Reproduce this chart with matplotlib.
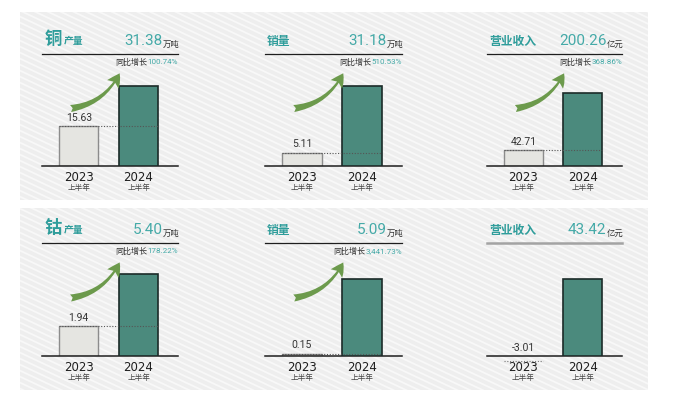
import matplotlib
matplotlib.use("Agg")
import matplotlib.pyplot as plt
from matplotlib.patches import Rectangle, FancyArrowPatch
import numpy as np

plt.rcParams['font.family'] = ['Noto Sans CJK SC', 'DejaVu Sans']

metals = ["铜", "", "", "钴", "", ""]
metrics = ["产量", "销量", "营业收入", "产量", "销量", "营业收入"]
units = ["万吨", "万吨", "亿元", "万吨", "万吨", "亿元"]
v2023 = [15.63, 5.11, 42.71, 1.94, 0.15, -3.01]
v2024 = [31.38, 31.18, 200.26, 5.40, 5.09, 43.42]
growth = ["100.74%", "510.53%", "368.86%", "178.22%", "3,441.73%", None]
years = ["2023", "2024"]
period = "上半年"

TEAL = "#2f9d9b"
TEAL_LIGHT = "#45aaa8"
W, H = 674, 400

fig = plt.figure(figsize=(W / 100, H / 100), dpi=100)
fig.patch.set_facecolor("white")

# background panels with diagonal stripes
bg = fig.add_axes([0, 0, 1, 1])
bg.set_xlim(0, W)
bg.set_ylim(H, 0)
bg.axis("off")
for (y0, y1) in [(12, 200), (208, 390)]:
    rect = Rectangle((20, y0), 628, y1 - y0, facecolor="#eeeeee", edgecolor="none")
    bg.add_patch(rect)
    xs = np.array([0, W])
    for c in np.arange(-0.47 * W, H, 6):
        ln, = bg.plot(xs, c + 0.47 * xs, color="#f8f8f8", lw=1.3)
        ln.set_clip_path(rect)

# chart frames in pixels: left, right of header line, header line y, baseline y
cols = [(42, 178), (265, 402), (487, 622)]
rows = [(54, 166), (243, 356)]
fill = [0.71, 0.71, 0.65, 0.73, 0.68, 0.68]
xpos = [0.27, 0.71]
bw = 0.29

for i in range(6):
    (x0, x1) = cols[i % 3]
    (yt, yb) = rows[i // 3]
    ax = fig.add_axes([x0 / W, (H - yb) / H, (x1 - x0) / W, (yb - yt) / H])
    ax.patch.set_alpha(0)
    ax.set_xlim(0, 1)
    ax.set_ylim(0, v2024[i] / fill[i])
    ax.set_xticks([])
    ax.set_yticks([])
    for s in ["left", "right"]:
        ax.spines[s].set_visible(False)
    ax.spines["bottom"].set_color("#1e1e1e")
    ax.spines["bottom"].set_linewidth(1.1)
    if growth[i] is None:
        ax.spines["top"].set_color("#a3a3a3")
        ax.spines["top"].set_linewidth(1.8)
    else:
        ax.spines["top"].set_color("#1e1e1e")
        ax.spines["top"].set_linewidth(0.9)

    # bars
    a, b = v2023[i], v2024[i]
    if a > 0:
        ax.bar(xpos[0], a, bw, color="#e5e5e1", edgecolor="#8c8c8c", lw=1.0, zorder=2)
        ax.plot([xpos[0] - bw / 2, xpos[1] + bw / 2], [a, a], ls=(0, (1, 1.5)),
                color="#555555", lw=0.8, zorder=4)
    else:
        ax.plot([xpos[0] - bw / 2, xpos[0] + bw / 2], [a, a], ls=(0, (1, 1.5)),
                color="#777777", lw=0.8, clip_on=False, zorder=4)
    ax.bar(xpos[1], b, bw, color="#4b8a7d", edgecolor="#1b2b28", lw=1.2, zorder=3)

    ax.annotate(f"{a:.2f}", xy=(xpos[0], max(a, 0)), xytext=(0, 2.5),
                textcoords="offset points", ha="center", va="bottom",
                fontsize=7.5, color="#333333", family="Roboto")

    for k, yr in enumerate(years):
        ax.annotate(yr, xy=(xpos[k], 0), xycoords=("data", "axes fraction"),
                    xytext=(0, -8), textcoords="offset points", ha="center",
                    va="center", fontsize=8.5, color="#1e1e1e", family="DejaVu Sans")
        ax.annotate(period, xy=(xpos[k], 0), xycoords=("data", "axes fraction"),
                    xytext=(0, -15.5), textcoords="offset points", ha="center",
                    va="center", fontsize=5.5, color="#444444")

    # header: title on the left, value on the right
    if metals[i]:
        t = ax.annotate(metals[i], xy=(0, 1), xycoords="axes fraction",
                        xytext=(2, 4), textcoords="offset points", ha="left",
                        va="bottom", fontsize=12.5, color=TEAL, weight="bold")
        ax.annotate(metrics[i], xy=(1, 0.12), xycoords=t, xytext=(1, 0),
                    textcoords="offset points", ha="left", va="bottom",
                    fontsize=7, color=TEAL, weight="bold")
    else:
        ax.annotate(metrics[i], xy=(0, 1), xycoords="axes fraction",
                    xytext=(1.5, 4), textcoords="offset points", ha="left",
                    va="bottom", fontsize=8.5, color=TEAL, weight="bold")

    u = ax.annotate(units[i], xy=(1, 1), xycoords="axes fraction",
                    xytext=(1, 4), textcoords="offset points", ha="right",
                    va="bottom", fontsize=6, color="#333333")
    ax.annotate(f"{b:.2f}", xy=(0, 0), xycoords=u, ha="right", va="bottom",
                fontsize=11, color=TEAL_LIGHT, family="Roboto")

    if growth[i] is not None:
        g = ax.annotate(growth[i], xy=(1, 1), xycoords="axes fraction",
                        xytext=(0, -6), textcoords="offset points", ha="right",
                        va="center", fontsize=5.8, color=TEAL_LIGHT, family="Roboto")
        ax.annotate("同比增长", xy=(0, 0.5), xycoords=g, ha="right", va="center",
                    fontsize=5.8, color="#333333")
        arr = FancyArrowPatch((0.19, 0.51), (0.58, 0.85), transform=ax.transAxes,
                              connectionstyle="arc3,rad=0.28",
                              arrowstyle="fancy,head_length=0.55,head_width=0.6,tail_width=0.3",
                              mutation_scale=17, color="#6c9a4c", lw=0, clip_on=False,
                              zorder=5)
        ax.add_patch(arr)

fig.savefig("out.png", dpi=100)
